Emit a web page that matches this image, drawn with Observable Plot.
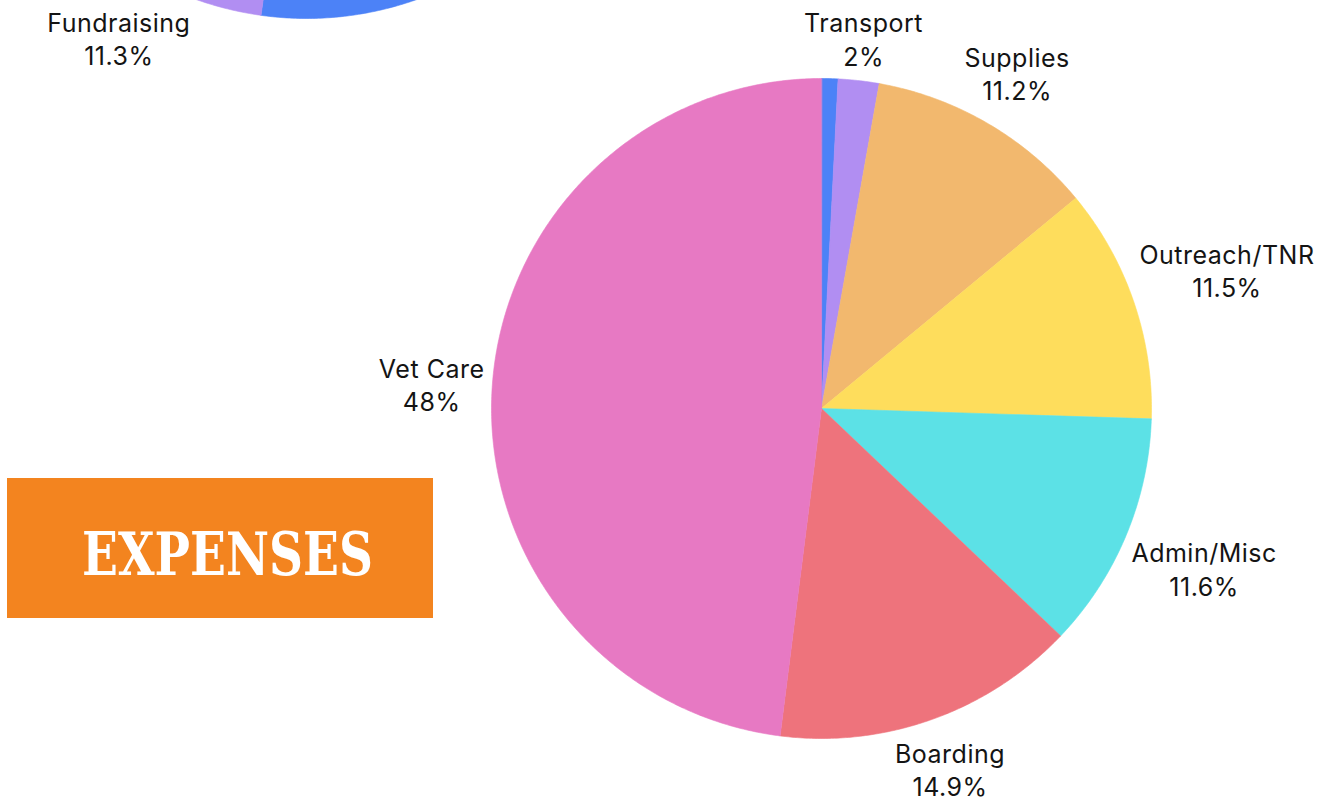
<!DOCTYPE html>
<html>
<head>
<meta charset="utf-8">
<script src="https://cdn.jsdelivr.net/npm/d3@7"></script>
<script src="https://cdn.jsdelivr.net/npm/@observablehq/plot@0.6"></script>
<style>
  html, body { margin: 0; padding: 0; background: #ffffff; }
  #wrap { position: relative; width: 1334px; height: 802px; overflow: hidden; background: #fff; }
  #chart { position: absolute; left: 0; top: 0; }
  #badge { position: absolute; left: 7px; top: 478px; width: 426px; height: 140px; background: #F3841F; overflow: hidden; }
  #badge span { position: absolute; left: 0; top: 0; white-space: nowrap; color: #ffffff;
    font-family: "DejaVu Serif Condensed", "DejaVu Serif", serif; font-weight: bold; font-size: 59px; line-height: 1;
    transform-origin: 0 0; }
</style>
</head>
<body>
<div id="wrap">
  <div id="chart"></div>
  <div id="badge"><span id="badgeText"></span></div>
</div>
<script>
// ---------------- DATA ----------------
// Expenses pie (clockwise from 12 o'clock)
const expenseCategories = ["Unlabeled", "Transport", "Supplies", "Outreach/TNR", "Admin/Misc", "Boarding", "Vet Care"];
const expenseValues     = [0.8, 2, 11.2, 11.5, 11.6, 14.9, 48];
const expenseColors     = ["#4C82F7", "#B18EF2", "#F2B86E", "#FEDD5C", "#5CE1E6", "#EE737C", "#E779C3"];

// Income pie, mostly outside the picture (only its bottom edge is visible)
const incomeCategories = ["Income (cut off)", "Fundraising", "Income rest (cut off)"];
const incomeValues     = [52.2, 11.3, 36.5];
const incomeColors     = ["#4C82F7", "#B18EF2", "#F2B86E"];

const titleText = "EXPENSES";

// ---------------- LAYOUT ----------------
const W = 1334, H = 802;
const RPX = 330;                          // pie radius in pixels (= 1 data unit)
const mainCenter = {x: 821, y: 408};      // pixels
const incomeCenter = {x: 306, y: -312};   // pixels (off the top of the frame)
const FONT = "Inter, 'Noto Sans', sans-serif";
const FS = 25;
const LS = 0.5;        // letter spacing, px
const LABEL_GAP = 336; // px from pie centre to nearest edge of label box
const BOX_HALF_H = 30; // px, half height of the two-line label box

// pixel -> data units (y up, radius = 1)
const ux = (px) => (px - mainCenter.x) / RPX;
const uy = (py) => (mainCenter.y - py) / RPX;

const ctx = document.createElement("canvas").getContext("2d");
ctx.font = `${FS}px Inter`;
const textWidth = (t) => ctx.measureText(t).width + LS * t.length;

function buildPie(cats, vals, center) {
  const total = d3.sum(vals);
  const cx = ux(center.x), cy = uy(center.y);
  const pts = [], labels = [];
  let acc = 0;
  cats.forEach((c, i) => {
    const a0 = acc / total * 2 * Math.PI;
    acc += vals[i];
    const a1 = acc / total * 2 * Math.PI;
    const n = Math.max(2, Math.ceil((a1 - a0) / (Math.PI / 360)));
    pts.push({key: c, x: cx, y: cy});
    for (let k = 0; k <= n; ++k) {
      const a = a0 + (a1 - a0) * k / n;
      pts.push({key: c, x: cx + Math.sin(a), y: cy + Math.cos(a)});
    }
    const m = (a0 + a1) / 2;
    const s = Math.sin(m), co = Math.cos(m);
    const text = `${c}\n${vals[i]}%`;
    const w = d3.max(text.split("\n"), textWidth);
    const dist = (LABEL_GAP + Math.abs(s) * w / 2 + Math.abs(co) * BOX_HALF_H) / RPX;
    labels.push({key: c, value: vals[i], text, x: cx + dist * s, y: cy + dist * co});
  });
  return {pts, labels};
}

const expensePie = buildPie(expenseCategories, expenseValues, mainCenter);
const incomePie = buildPie(incomeCategories, incomeValues, incomeCenter);

const allPts = [...incomePie.pts, ...expensePie.pts];
const allLabels = [
  ...incomePie.labels.filter(d => d.key === "Fundraising"),
  ...expensePie.labels.filter(d => d.value >= 1)
];

const chart = Plot.plot({
  width: W,
  height: H,
  margin: 0,
  x: {domain: [ux(0), ux(W)], range: [0, W], axis: null},
  y: {domain: [uy(H), uy(0)], range: [H, 0], axis: null},
  color: {domain: [...expenseCategories, ...incomeCategories], range: [...expenseColors, ...incomeColors]},
  style: {fontFamily: FONT, background: "transparent", letterSpacing: `${LS}px`},
  marks: [
    Plot.line(allPts, {x: "x", y: "y", z: "key", fill: "key", stroke: "key", strokeWidth: 0.6, curve: "linear-closed"}),
    Plot.text(allLabels, {x: "x", y: "y", text: "text", fontSize: FS, lineHeight: 1.33, lineAnchor: "middle", textAnchor: "middle", fill: "#141414"})
  ]
});
document.getElementById("chart").appendChild(chart);

// Title badge: fit the word into the width it has in the reference (291px), centred at x=227.5 of the page
const badgeSpan = document.getElementById("badgeText");
badgeSpan.textContent = titleText;
const badgeRect = badgeSpan.getBoundingClientRect();
const badgeTargetW = 291;
const badgeScale = badgeTargetW / badgeRect.width;
const badgeLeft = (227.5 - 7) - badgeTargetW / 2;
const badgeTop = (552 - 478) - badgeRect.height / 2 + 2;
badgeSpan.style.left = `${badgeLeft}px`;
badgeSpan.style.top = `${badgeTop}px`;
badgeSpan.style.transform = `scaleX(${badgeScale})`;
</script>
</body>
</html>
